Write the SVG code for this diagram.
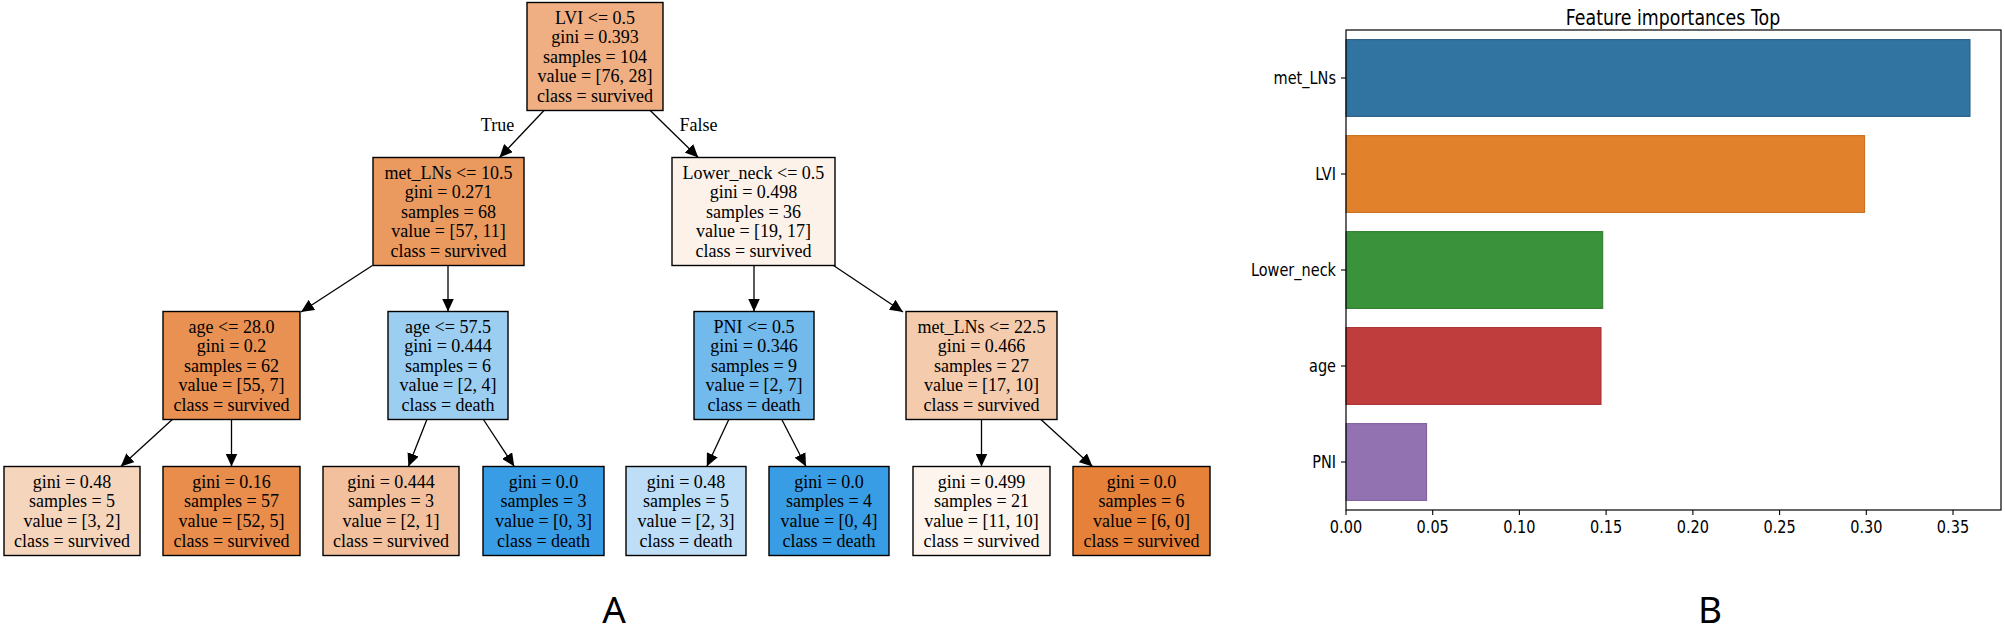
<svg xmlns="http://www.w3.org/2000/svg" width="2005" height="628" viewBox="0 0 2005 628">
<style>
.box{stroke:#000;stroke-width:1.4}
.t{font-family:"Liberation Serif","Times New Roman",serif;font-size:18px;text-anchor:middle;fill:#000}
.e{stroke:#000;stroke-width:1.3;fill:none}
.lab{font-family:"Noto Sans","DejaVu Sans",sans-serif;font-size:37px;text-anchor:middle;fill:#000}
.ax{font-family:"DejaVu Sans",sans-serif;font-size:14.5px;fill:#000}
.spine{stroke:#000;stroke-width:1.2;fill:none}
</style>
<defs>
<marker id="arr" markerUnits="userSpaceOnUse" markerWidth="14" markerHeight="12" refX="13" refY="6" orient="auto">
<path d="M0,0 L13,6 L0,12 Z" fill="#000"/>
</marker>
</defs>
<rect width="2005" height="628" fill="#fff"/>

<g id="connectors">
<line class="e" x1="544" y1="110.5" x2="499.5" y2="157.5" marker-end="url(#arr)"/>
<line class="e" x1="650.2" y1="110.5" x2="698.3" y2="157.5" marker-end="url(#arr)"/>
<line class="e" x1="372.4" y1="265.5" x2="301" y2="312" marker-end="url(#arr)"/>
<line class="e" x1="448" y1="265.5" x2="448" y2="311.5" marker-end="url(#arr)"/>
<line class="e" x1="754" y1="265.5" x2="754" y2="311.5" marker-end="url(#arr)"/>
<line class="e" x1="833.5" y1="265.5" x2="903" y2="312" marker-end="url(#arr)"/>
<line class="e" x1="172.3" y1="419.5" x2="120.8" y2="466.5" marker-end="url(#arr)"/>
<line class="e" x1="231.5" y1="419.5" x2="231.5" y2="466.5" marker-end="url(#arr)"/>
<line class="e" x1="426.9" y1="419.5" x2="408.4" y2="466.5" marker-end="url(#arr)"/>
<line class="e" x1="483.4" y1="419.5" x2="514.3" y2="466.5" marker-end="url(#arr)"/>
<line class="e" x1="728.8" y1="419.5" x2="706.8" y2="466.5" marker-end="url(#arr)"/>
<line class="e" x1="781.8" y1="419.5" x2="806" y2="466.5" marker-end="url(#arr)"/>
<line class="e" x1="981.5" y1="419.5" x2="981.5" y2="466.5" marker-end="url(#arr)"/>
<line class="e" x1="1040.9" y1="419.5" x2="1092.5" y2="466.5" marker-end="url(#arr)"/>
<text class="t" x="497.5" y="131">True</text>
<text class="t" x="698.5" y="131">False</text>
</g>

<g id="n0">
<rect class="box" x="527" y="2.5" width="136" height="108" fill="#efaf82"/>
<text class="t"><tspan x="595" y="23.5">LVI &lt;= 0.5</tspan><tspan x="595" y="43.1">gini = 0.393</tspan><tspan x="595" y="62.7">samples = 104</tspan><tspan x="595" y="82.3">value = [76, 28]</tspan><tspan x="595" y="101.9">class = survived</tspan></text>
</g>
<g id="n1">
<rect class="box" x="373" y="157.5" width="151" height="108" fill="#ea995f"/>
<text class="t"><tspan x="448.5" y="178.5">met_LNs &lt;= 10.5</tspan><tspan x="448.5" y="198.1">gini = 0.271</tspan><tspan x="448.5" y="217.7">samples = 68</tspan><tspan x="448.5" y="237.3">value = [57, 11]</tspan><tspan x="448.5" y="256.9">class = survived</tspan></text>
</g>
<g id="n8">
<rect class="box" x="672" y="157.5" width="163" height="108" fill="#fcf2ea"/>
<text class="t"><tspan x="753.5" y="178.5">Lower_neck &lt;= 0.5</tspan><tspan x="753.5" y="198.1">gini = 0.498</tspan><tspan x="753.5" y="217.7">samples = 36</tspan><tspan x="753.5" y="237.3">value = [19, 17]</tspan><tspan x="753.5" y="256.9">class = survived</tspan></text>
</g>
<g id="n2">
<rect class="box" x="163" y="311.5" width="137" height="108" fill="#e89152"/>
<text class="t"><tspan x="231.5" y="332.5">age &lt;= 28.0</tspan><tspan x="231.5" y="352.1">gini = 0.2</tspan><tspan x="231.5" y="371.7">samples = 62</tspan><tspan x="231.5" y="391.3">value = [55, 7]</tspan><tspan x="231.5" y="410.9">class = survived</tspan></text>
</g>
<g id="n5">
<rect class="box" x="388" y="311.5" width="120" height="108" fill="#9ccef2"/>
<text class="t"><tspan x="448" y="332.5">age &lt;= 57.5</tspan><tspan x="448" y="352.1">gini = 0.444</tspan><tspan x="448" y="371.7">samples = 6</tspan><tspan x="448" y="391.3">value = [2, 4]</tspan><tspan x="448" y="410.9">class = death</tspan></text>
</g>
<g id="n9">
<rect class="box" x="694" y="311.5" width="120" height="108" fill="#72b9ec"/>
<text class="t"><tspan x="754" y="332.5">PNI &lt;= 0.5</tspan><tspan x="754" y="352.1">gini = 0.346</tspan><tspan x="754" y="371.7">samples = 9</tspan><tspan x="754" y="391.3">value = [2, 7]</tspan><tspan x="754" y="410.9">class = death</tspan></text>
</g>
<g id="n12">
<rect class="box" x="906" y="311.5" width="151" height="108" fill="#f4cbad"/>
<text class="t"><tspan x="981.5" y="332.5">met_LNs &lt;= 22.5</tspan><tspan x="981.5" y="352.1">gini = 0.466</tspan><tspan x="981.5" y="371.7">samples = 27</tspan><tspan x="981.5" y="391.3">value = [17, 10]</tspan><tspan x="981.5" y="410.9">class = survived</tspan></text>
</g>
<g id="n3">
<rect class="box" x="4" y="466.5" width="136" height="89" fill="#f6d5bd"/>
<text class="t"><tspan x="72" y="487.8">gini = 0.48</tspan><tspan x="72" y="507.4">samples = 5</tspan><tspan x="72" y="527">value = [3, 2]</tspan><tspan x="72" y="546.6">class = survived</tspan></text>
</g>
<g id="n4">
<rect class="box" x="163" y="466.5" width="137" height="89" fill="#e88d4c"/>
<text class="t"><tspan x="231.5" y="487.8">gini = 0.16</tspan><tspan x="231.5" y="507.4">samples = 57</tspan><tspan x="231.5" y="527">value = [52, 5]</tspan><tspan x="231.5" y="546.6">class = survived</tspan></text>
</g>
<g id="n6">
<rect class="box" x="323" y="466.5" width="136" height="89" fill="#f2c09c"/>
<text class="t"><tspan x="391" y="487.8">gini = 0.444</tspan><tspan x="391" y="507.4">samples = 3</tspan><tspan x="391" y="527">value = [2, 1]</tspan><tspan x="391" y="546.6">class = survived</tspan></text>
</g>
<g id="n7">
<rect class="box" x="483" y="466.5" width="121" height="89" fill="#399de5"/>
<text class="t"><tspan x="543.5" y="487.8">gini = 0.0</tspan><tspan x="543.5" y="507.4">samples = 3</tspan><tspan x="543.5" y="527">value = [0, 3]</tspan><tspan x="543.5" y="546.6">class = death</tspan></text>
</g>
<g id="n10">
<rect class="box" x="626" y="466.5" width="120" height="89" fill="#bddef6"/>
<text class="t"><tspan x="686" y="487.8">gini = 0.48</tspan><tspan x="686" y="507.4">samples = 5</tspan><tspan x="686" y="527">value = [2, 3]</tspan><tspan x="686" y="546.6">class = death</tspan></text>
</g>
<g id="n11">
<rect class="box" x="769" y="466.5" width="120" height="89" fill="#399de5"/>
<text class="t"><tspan x="829" y="487.8">gini = 0.0</tspan><tspan x="829" y="507.4">samples = 4</tspan><tspan x="829" y="527">value = [0, 4]</tspan><tspan x="829" y="546.6">class = death</tspan></text>
</g>
<g id="n13">
<rect class="box" x="913" y="466.5" width="137" height="89" fill="#fdf4ed"/>
<text class="t"><tspan x="981.5" y="487.8">gini = 0.499</tspan><tspan x="981.5" y="507.4">samples = 21</tspan><tspan x="981.5" y="527">value = [11, 10]</tspan><tspan x="981.5" y="546.6">class = survived</tspan></text>
</g>
<g id="n14">
<rect class="box" x="1073" y="466.5" width="137" height="89" fill="#e58139"/>
<text class="t"><tspan x="1141.5" y="487.8">gini = 0.0</tspan><tspan x="1141.5" y="507.4">samples = 6</tspan><tspan x="1141.5" y="527">value = [6, 0]</tspan><tspan x="1141.5" y="546.6">class = survived</tspan></text>
</g>

<text class="lab" x="614" y="623">A</text>

<g id="chart">
<text class="ax" transform="translate(1673,25) scale(1,1.2)" text-anchor="middle" style="font-size:17.4px">Feature importances Top</text>
<rect x="1346" y="39.6" width="624" height="76.8" fill="#3274a1" stroke="#23587d" stroke-width="1"/>
<rect x="1346" y="135.6" width="518.6" height="76.8" fill="#e1812c" stroke="#c86a18" stroke-width="1"/>
<rect x="1346" y="231.6" width="256.7" height="76.8" fill="#3a923a" stroke="#287a28" stroke-width="1"/>
<rect x="1346" y="327.6" width="255" height="76.8" fill="#c03d3e" stroke="#a42c2d" stroke-width="1"/>
<rect x="1346" y="423.6" width="80.6" height="76.8" fill="#9372b2" stroke="#7a5a9a" stroke-width="1"/>
<rect class="spine" x="1346" y="30" width="655" height="480"/>
<g stroke="#000" stroke-width="1.1">
<line x1="1341" y1="78" x2="1346" y2="78"/>
<line x1="1341" y1="174" x2="1346" y2="174"/>
<line x1="1341" y1="270" x2="1346" y2="270"/>
<line x1="1341" y1="366" x2="1346" y2="366"/>
<line x1="1341" y1="462" x2="1346" y2="462"/>
<line x1="1346" y1="510" x2="1346" y2="515"/>
<line x1="1432.7" y1="510" x2="1432.7" y2="515"/>
<line x1="1519.4" y1="510" x2="1519.4" y2="515"/>
<line x1="1606.1" y1="510" x2="1606.1" y2="515"/>
<line x1="1692.9" y1="510" x2="1692.9" y2="515"/>
<line x1="1779.6" y1="510" x2="1779.6" y2="515"/>
<line x1="1866.3" y1="510" x2="1866.3" y2="515"/>
<line x1="1953" y1="510" x2="1953" y2="515"/>
</g>
<g text-anchor="end">
<text class="ax" transform="translate(1336,84.3) scale(1,1.2)">met_LNs</text>
<text class="ax" transform="translate(1336,180.3) scale(1,1.2)">LVI</text>
<text class="ax" transform="translate(1336,276.3) scale(1,1.2)">Lower_neck</text>
<text class="ax" transform="translate(1336,372.3) scale(1,1.2)">age</text>
<text class="ax" transform="translate(1336,468.3) scale(1,1.2)">PNI</text>
</g>
<g text-anchor="middle">
<text class="ax" transform="translate(1346,533) scale(1,1.2)">0.00</text>
<text class="ax" transform="translate(1432.7,533) scale(1,1.2)">0.05</text>
<text class="ax" transform="translate(1519.4,533) scale(1,1.2)">0.10</text>
<text class="ax" transform="translate(1606.1,533) scale(1,1.2)">0.15</text>
<text class="ax" transform="translate(1692.9,533) scale(1,1.2)">0.20</text>
<text class="ax" transform="translate(1779.6,533) scale(1,1.2)">0.25</text>
<text class="ax" transform="translate(1866.3,533) scale(1,1.2)">0.30</text>
<text class="ax" transform="translate(1953,533) scale(1,1.2)">0.35</text>
</g>
</g>

<text class="lab" x="1710" y="623">B</text>
</svg>
